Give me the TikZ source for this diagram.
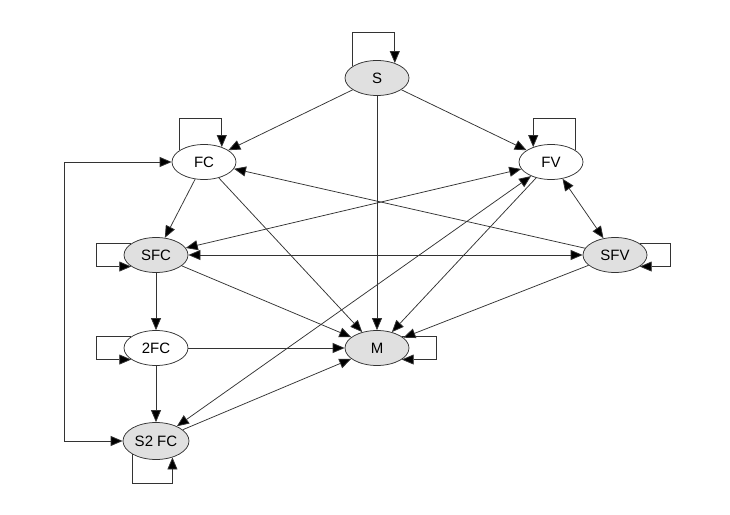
\documentclass[tikz,border=0pt]{standalone}
\usepackage{fontspec}
\setmainfont{Liberation Sans}
\usetikzlibrary{shapes.geometric, arrows.meta}

\begin{document}
\begin{tikzpicture}[x=1pt, y=1pt]

% --- Define reusable styles ---
\tikzset{
    state/.style={
        draw=black!80, ellipse, line width=0.75pt,
        minimum width=64pt, minimum height=35pt, inner sep=1pt,
        font=\fontsize{15}{17}\selectfont
    },
    shaded/.style={state, fill=black!12},
    plain/.style={state, fill=white},
    link/.style={draw=black!80, line width=0.75pt, -{Triangle[length=12pt, width=10pt, fill=black]}},
    twoway/.style={link, {Triangle[length=12pt, width=10pt, fill=black]}-{Triangle[length=12pt, width=10pt, fill=black]}}
}
% Fix the page to the size of the reference
\useasboundingbox (0,0) rectangle (730,514);

% 1. Place the states
\node[shaded] (S)     at (377,436) {S};
\node[plain]  (FC)    at (204,352) {FC};
\node[plain]  (FV)    at (551,352) {FV};
\node[shaded] (SFC)   at (156,259) {SFC};
\node[shaded] (SFV)   at (615,259) {SFV};
\node[plain]  (twofc) at (156,166) {2FC};
\node[shaded] (M)     at (377,166) {M};
\node[shaded, minimum width=66pt, minimum height=37pt] (stwofc) at (156,73) {S2 FC};

% 2. Self loops
\draw[link] (S.155) -- ++(0,34) -| (S.40);
\draw[link] (FC.155) -- ++(0,32) -| (FC.40);
\draw[link] (FV.25) -- ++(0,32) -| (FV.140);
\draw[link] (SFC.155) -- ++(-35,0) |- (SFC.205);
\draw[link] (SFV.25) -- ++(31,0) |- (SFV.-25);
\draw[link] (twofc.155) -- ++(-35,0) |- (twofc.205);
\draw[link] (M.25) -- ++(35,0) |- (M.-25);
\draw[link] (stwofc.210) -- ++(0,-29) -| (stwofc.315);

% 3. Edges leaving S
\draw[link] (S) -- (FC);
\draw[link] (S) -- (FV);
\draw[link] (S) -- (M);

% 4. Edges of the middle rows
\draw[link] (FC) -- (SFC);
\draw[link] (FC) -- (M);
\draw[link] (FV) -- (M);
\draw[link] (SFV) -- (FC);
\draw[link] (SFV) -- (M);
\draw[link] (SFC) -- (M);
\draw[link] (SFC) -- (twofc);
\draw[twoway] (FV) -- (SFC);
\draw[twoway] (FV) -- (SFV);
\draw[twoway] (SFC) -- (SFV);

% 5. Edges of the lower rows
\draw[link] (twofc) -- (M);
\draw[link] (twofc) -- (stwofc);
\draw[link] (stwofc) -- (M);
\draw[twoway] (stwofc) -- (FV);
\draw[twoway] (FC.west) -- ++(-107,0) |- (stwofc.west);

\end{tikzpicture}
\end{document}
